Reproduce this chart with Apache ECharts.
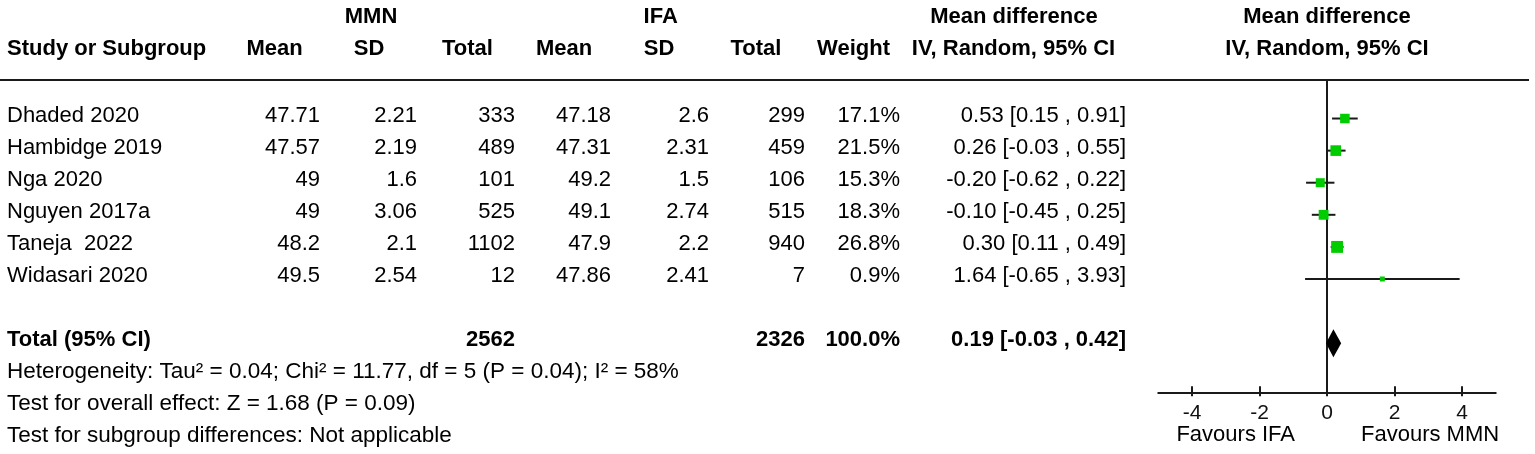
<!DOCTYPE html>
<html>
<head>
<meta charset="utf-8">
<script src="https://cdn.jsdelivr.net/npm/echarts@6/dist/echarts.min.js"></script>
<style>
html,body{margin:0;padding:0;background:#fff;}
#chart{width:1535px;height:454px;}
</style>
</head>
<body>
<div id="chart"></div>
<script>
// ---------------- data ----------------
const studies   = ['Dhaded 2020', 'Hambidge 2019', 'Nga 2020', 'Nguyen 2017a', 'Taneja  2022', 'Widasari 2020'];
const mmnMean   = [47.71, 47.57, 49, 49, 48.2, 49.5];
const mmnSD     = [2.21, 2.19, 1.6, 3.06, 2.1, 2.54];
const mmnTotal  = [333, 489, 101, 525, 1102, 12];
const ifaMean   = [47.18, 47.31, 49.2, 49.1, 47.9, 47.86];
const ifaSD     = [2.6, 2.31, 1.5, 2.74, 2.2, 2.41];
const ifaTotal  = [299, 459, 106, 515, 940, 7];
const weights   = [17.1, 21.5, 15.3, 18.3, 26.8, 0.9];
const md        = [0.53, 0.26, -0.20, -0.10, 0.30, 1.64];
const ciLow     = [0.15, -0.03, -0.62, -0.45, 0.11, -0.65];
const ciHigh    = [0.91, 0.55, 0.22, 0.25, 0.49, 3.93];
const totalLabel  = 'Total (95% CI)';
const totalMMN    = 2562;
const totalIFA    = 2326;
const totalWeight = 100.0;
const totalMD     = 0.19;
const totalLow    = -0.03;
const totalHigh   = 0.42;
const xTicks      = [-4, -2, 0, 2, 4];
const groupHeaders = ['MMN', 'IFA', 'Mean difference', 'Mean difference'];
const colHeaders   = ['Study or Subgroup', 'Mean', 'SD', 'Total', 'Mean', 'SD', 'Total', 'Weight', 'IV, Random, 95% CI', 'IV, Random, 95% CI'];
const favours      = ['Favours IFA', 'Favours MMN'];
const footnotes    = [
  'Heterogeneity: Tau\u00B2 = 0.04; Chi\u00B2 = 11.77, df = 5 (P = 0.04); I\u00B2 = 58%',
  'Test for overall effect: Z = 1.68 (P = 0.09)',
  'Test for subgroup differences: Not applicable'
];

// ---------------- layout ----------------
const FONT = "'Liberation Sans', Arial, Helvetica, sans-serif";
const FS = 22;
const TOTAL_ROW = 7;
const GREEN = '#00cc00';
const INK = '#1a1a1a';
const fmt2 = v => v.toFixed(2);
const ciText = (m, l, h) => fmt2(m) + ' [' + fmt2(l) + ' , ' + fmt2(h) + ']';

const chart = echarts.init(document.getElementById('chart'), null, {renderer: 'canvas'});

const studyData = studies.map((s, i) => [md[i], i, ciLow[i], ciHigh[i], weights[i]]);

chart.setOption({
  animation: false,
  backgroundColor: '#fff',
  grid: {left: 1158.25, right: 39.25, top: 80, bottom: 61.7, containLabel: false},
  xAxis: [{
    type: 'value', min: -5, max: 5, position: 'bottom',
    splitLine: {show: false},
    axisLine: {show: true, onZero: false, lineStyle: {color: INK, width: 2}},
    axisTick: {show: true, inside: true, length: 6, customValues: xTicks, lineStyle: {color: INK, width: 2}},
    axisLabel: {show: true, customValues: xTicks, margin: 10, color: '#111', fontSize: 21, fontFamily: FONT}
  }, {
    type: 'value', min: -5, max: 5, position: 'bottom',
    splitLine: {show: false},
    axisLine: {show: false, onZero: false},
    axisTick: {show: true, inside: false, length: 4, customValues: xTicks, lineStyle: {color: INK, width: 2}},
    axisLabel: {show: false}
  }],
  yAxis: {
    type: 'value', inverse: true, min: -1.2, max: 8.53,
    splitLine: {show: false},
    axisTick: {show: false}, axisLabel: {show: false},
    axisLine: {show: true, onZero: true, lineStyle: {color: INK, width: 2}}
  },
  series: [{
    type: 'custom',
    data: studyData,
    renderItem: function (params, api) {
      const y = api.value(1);
      const a = api.coord([api.value(2), y]);
      const b = api.coord([api.value(3), y]);
      const c = api.coord([api.value(0), y]);
      const size = Math.max(5, 2.3 * Math.sqrt(api.value(4)));
      return {
        type: 'group',
        children: [{
          type: 'line',
          shape: {x1: a[0], y1: a[1], x2: b[0], y2: b[1]},
          style: {stroke: INK, lineWidth: 2}
        }, {
          type: 'rect',
          shape: {x: c[0] - size / 2, y: c[1] - size / 2, width: size, height: size},
          style: {fill: GREEN}
        }]
      };
    }
  }, {
    type: 'custom',
    data: [[totalMD, TOTAL_ROW, totalLow, totalHigh]],
    renderItem: function (params, api) {
      const y = api.value(1);
      const l = api.coord([api.value(2), y]);
      const m = api.coord([api.value(0), y]);
      const h = api.coord([api.value(3), y]);
      const half = 14;
      return {
        type: 'polygon',
        shape: {points: [[l[0], l[1]], [m[0], m[1] - half], [h[0], h[1]], [m[0], m[1] + half]]},
        style: {fill: '#000'}
      };
    }
  }]
});

// ---------------- table text ----------------
const rowY = i => chart.convertToPixel({yAxisIndex: 0}, i) - 3;
const gridTop = chart.convertToPixel({yAxisIndex: 0}, -1.2);
const x0 = chart.convertToPixel({xAxisIndex: 0}, 0);

const colRight = [320, 417, 515, 611, 709, 805, 900, 1126];
const headCenters = [274.5, 369, 467.5, 564, 659, 756, 853.5, 1013.5, x0];
const groupCenters = [371, 660.7, 1013.9, x0];
const Y_GROUP = 16.7, Y_HEAD = 49;

const g = [];
function txt(str, x, y, align, bold, size) {
  g.push({
    type: 'text', x: x, y: y, silent: true,
    style: {
      text: String(str), x: 0, y: 0, fill: '#000',
      font: (bold ? 'bold ' : '') + (size || FS) + 'px ' + FONT,
      textAlign: align, textVerticalAlign: 'middle'
    }
  });
}
groupHeaders.forEach((h, i) => txt(h, groupCenters[i], Y_GROUP, 'center', true));
txt(colHeaders[0], 7, Y_HEAD, 'left', true);
colHeaders.slice(1).forEach((h, i) => txt(h, headCenters[i], Y_HEAD, 'center', true));

g.push({
  type: 'line', silent: true,
  shape: {x1: 0, y1: gridTop, x2: 1529, y2: gridTop},
  style: {stroke: INK, lineWidth: 2}
});

studies.forEach((s, i) => {
  const y = rowY(i);
  txt(s, 7, y, 'left', false);
  const vals = [mmnMean[i], mmnSD[i], mmnTotal[i], ifaMean[i], ifaSD[i], ifaTotal[i],
                weights[i].toFixed(1) + '%', ciText(md[i], ciLow[i], ciHigh[i])];
  vals.forEach((v, k) => txt(v, colRight[k], y, 'right', false));
});

const ty = rowY(TOTAL_ROW);
txt(totalLabel, 7, ty, 'left', true);
txt(totalMMN, colRight[2], ty, 'right', true);
txt(totalIFA, colRight[5], ty, 'right', true);
txt(totalWeight.toFixed(1) + '%', colRight[6], ty, 'right', true);
txt(ciText(totalMD, totalLow, totalHigh), colRight[7], ty, 'right', true);

footnotes.forEach((f, k) => txt(f, 7, ty + 32 * (k + 1), 'left', false, 22.5));

txt(favours[0], 1295, 435, 'right', false);
txt(favours[1], 1361, 435, 'left', false);

chart.setOption({graphic: {elements: g}});
</script>
</body>
</html>
